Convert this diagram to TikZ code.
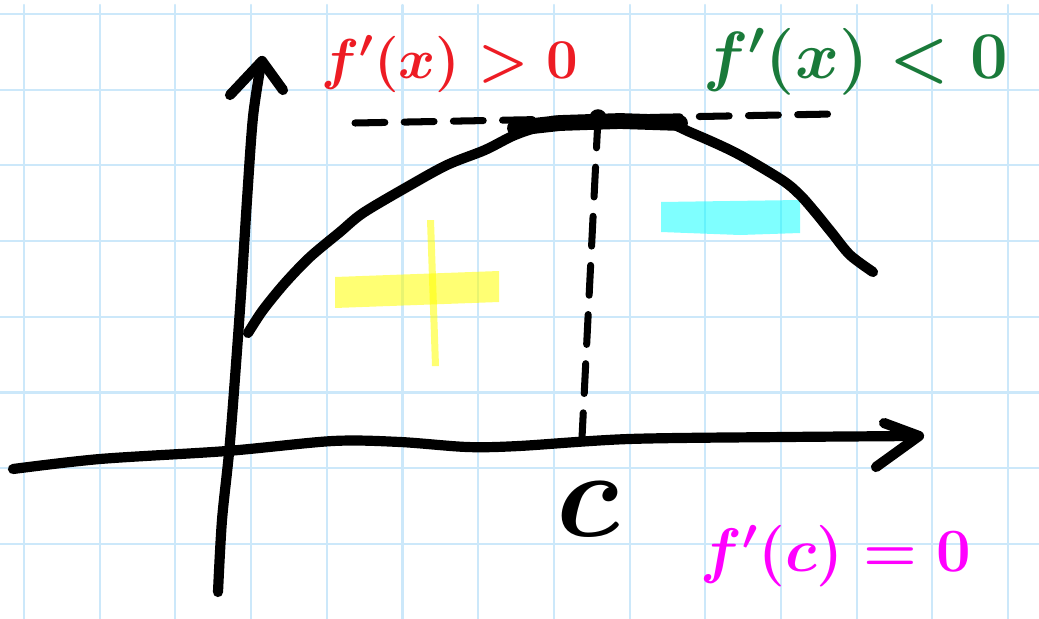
\RequirePackage{fix-cm}
\documentclass[tikz,border=0pt]{standalone}
\usepackage{amsmath}
\usepackage{tikz}
\usepackage{xcolor}
\definecolor{gridblue}{RGB}{204,232,250}
\definecolor{penred}{RGB}{237,28,36}
\definecolor{pengreen}{RGB}{26,122,58}
\definecolor{penpink}{RGB}{255,0,255}
\definecolor{hiyellow}{RGB}{255,255,0}
\definecolor{hicyan}{RGB}{0,255,255}

\begin{document}
\begin{tikzpicture}[x=0.02cm, y=-0.02cm, line cap=round, line join=round,
    pen/.style={line width=5.8pt},
    dashpen/.style={line width=4pt, dash pattern=on 17pt off 11pt},
    gridline/.style={gridblue, line width=1.2pt},
    lbl/.style={font=\fontsize{32}{32}\selectfont\boldmath}]
    \useasboundingbox (0,0) rectangle (1039,619);
    \fill[white] (0,0) rectangle (1039,619);
    % Squared paper
    \foreach \gx in {0,...,13}
        \draw[gridline] ({24+75.7*\gx},5) -- ({24+75.7*\gx},619);
    \foreach \gy in {0,...,8}
        \draw[gridline] (0,{14+75.7*\gy}) -- (1039,{14+75.7*\gy});
    % Highlighter signs
    \fill[hiyellow, opacity=0.55] (335,277) -- (499,271) -- (499,302) -- (335,308) -- cycle;
    \fill[hiyellow, opacity=0.55] (427,220) -- (434,220) -- (439,366) -- (432,366) -- cycle;
    \fill[hicyan, opacity=0.5] (661,202) -- (730,201) -- (800,200) -- (800,233) -- (740,235) -- (661,232) -- cycle;
    % Tangent level and foot of c
    \coordinate (cmax) at (598,118);
    \coordinate (cfoot) at (582,438);
    \draw[dashpen] (355,123) -- (833,114);
    \draw[dashpen] (cmax) -- (cfoot);
    % Axes
    \draw[pen] plot[smooth, tension=0.5] coordinates {(218,592) (222,520) (230,442) (240,309) (247,200) (253,117) (261,64)};
    \draw[pen] (230,95) -- (262,61) -- (283,90);
    \draw[pen] plot[smooth, tension=0.5] coordinates {(13,469) (100,459) (227,451) (333,441) (400,442) (467,447) (519,446) (629,439) (786,437) (917,436)};
    \draw[pen] (884,423) -- (919,436) -- (876,467);
    % Graph of f
    \draw[pen] plot[smooth, tension=0.5] coordinates {(248,333) (263,310) (285,283) (310,257) (340,232) (363,213) (407,187) (447,165) (485,150) (515,135) (545,126) (600,121) (660,121) (692,133) (736,153) (782,180) (800,195) (815,212) (832,233) (850,255) (873,272)};
    \draw[line width=9pt] (515,128) -- (560,123) -- (620,121) -- (680,123);
    \fill (cmax) circle (5pt);
    % Labels
    \node[lbl, text=penred] (incr) at (450,64) {$f'(x)>0$};
    \node[lbl, text=pengreen, font=\fontsize{38}{38}\selectfont\boldmath] (decr) at (856,62) {$f'(x)<0$};
    \node[lbl, text=penpink, font=\fontsize{35}{35}\selectfont\boldmath] (crit) at (836,556) {$f'(c)=0$};
    \node[font=\fontsize{70}{70}\selectfont\boldmath] (cpt) at (588,509) {$c$};
\end{tikzpicture}
\end{document}
